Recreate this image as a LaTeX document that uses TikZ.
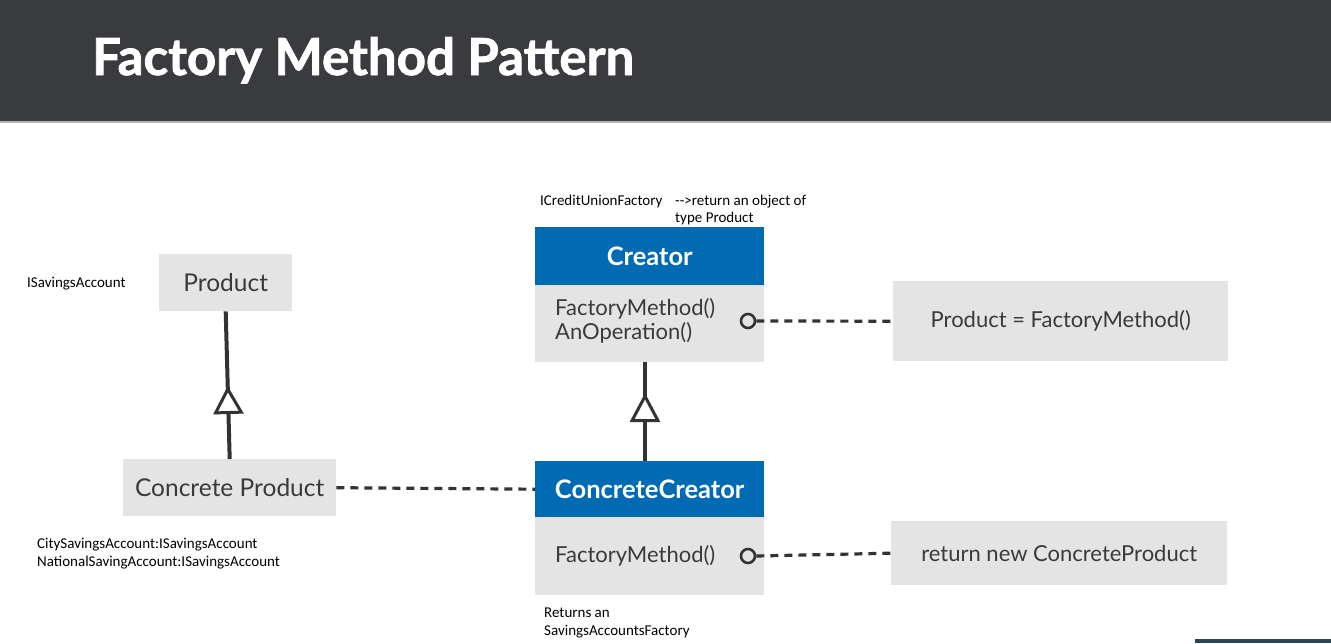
\documentclass[tikz,border=0pt]{standalone}
\usepackage{fontspec}
\setmainfont{Lato}
\newfontfamily\notefont{Carlito}
\newfontfamily\titlefont{Lato}[BoldFeatures={FakeBold=1.5}]
\usetikzlibrary{arrows.meta,decorations.markings}
\definecolor{barcol}{HTML}{3A3B3F}
\definecolor{boxgray}{HTML}{E4E4E4}
\definecolor{hdrblue}{HTML}{006BB3}
\definecolor{txtgray}{HTML}{3A3A3A}
\definecolor{linecol}{HTML}{333333}
\definecolor{slate}{HTML}{2B4552}
\tikzset{
  graybox/.style={fill=boxgray,draw=none,inner sep=0pt,text=txtgray,font=\fontsize{22}{24}\selectfont},
  biglabel/.style={font=\fontsize{24.5}{26}\selectfont},
  hdr/.style={fill=hdrblue,draw=none,inner sep=0pt,text=white,font=\bfseries\fontsize{25.5}{27}\selectfont},
  note/.style={inner sep=0pt,anchor=base west,font=\notefont\fontsize{15}{17}\selectfont,text=black},
  inherit/.style={draw=linecol,line width=4pt},
  depend/.style={draw=linecol,line width=3.2pt,dash pattern=on 8pt off 6pt},
  lolli/.style={circle,draw=linecol,line width=2.6pt,minimum size=14pt,inner sep=0pt}
}
\begin{document}
\begin{tikzpicture}[x=1pt,y=-1pt]
\useasboundingbox (0,0) rectangle (1331,643);
\fill[white] (0,0) rectangle (1331,643);
% title bar
\fill[barcol] (0,0) rectangle (1331,121);
\fill[gray!60] (0,121) rectangle (1331,123);
\node[anchor=base west,inner sep=0pt,text=white,font=\titlefont\bfseries\fontsize{51}{56}\selectfont] (title) at (92,75) {Factory Method Pattern};
\fill[slate] (1195,639) rectangle (1331,643);

% product side
\node[graybox,biglabel,minimum width=133pt,minimum height=57pt,anchor=north west] (prod) at (159,254) {Product};
\node[graybox,biglabel,minimum width=213pt,minimum height=57pt,anchor=north west] (cprod) at (123,459) {Concrete Product};

% creator
\node[hdr,minimum width=229pt,minimum height=58pt,anchor=north west] (creator) at (535,227) {Creator};
\node[graybox,minimum width=229pt,minimum height=77pt,anchor=north west] (cbody) at (535,285) {};
\node[anchor=west,inner sep=0pt,text=txtgray,font=\fontsize{22}{24}\selectfont,align=left] (cmeth) at (555,321) {FactoryMethod()\\AnOperation()};
\node[lolli] (c1) at (748,321) {};
\node[graybox,minimum width=335pt,minimum height=80pt,anchor=north west] (pfm) at (893,281) {Product = FactoryMethod()};

% concrete creator
\node[hdr,minimum width=229pt,minimum height=56pt,anchor=north west] (ccreator) at (535,461) {ConcreteCreator};
\node[graybox,minimum width=229pt,minimum height=78pt,anchor=north west] (ccbody) at (535,517) {};
\node[anchor=west,inner sep=0pt,text=txtgray,font=\fontsize{22}{24}\selectfont] (ccmeth) at (555,556) {FactoryMethod()};
\node[lolli] (c2) at (748,556) {};
\node[graybox,minimum width=336pt,minimum height=64pt,anchor=north west] (rnc) at (891,521) {return new ConcreteProduct};

% inheritance
\draw[inherit,postaction={decorate},decoration={markings,mark=at position 73pt with {\arrow[line width=3pt]{Triangle[length=28pt,width=30pt,fill=white]}}}] (cprod.north) -- (prod.south);
\draw[inherit,postaction={decorate},decoration={markings,mark=at position 68pt with {\arrow[line width=3pt]{Triangle[length=29pt,width=30pt,fill=white]}}}] (ccreator.north -| 645,0) -- (cbody.south -| 645,0);

% dependencies
\draw[depend] (cprod.east) -- (ccreator.west);
\draw[depend] (c1.east) -- (pfm.west);
\draw[depend] (c2.east) -- (rnc.west);

% notes
\node[note] (n1) at (27,287) {ISavingsAccount};
\node[note] (n2) at (540,205) {ICreditUnionFactory};
\node[note] (n3) at (675,205) {-->return an object of};
\node[note] (n4) at (675,222) {type Product};
\node[note] (n5) at (37,548) {CitySavingsAccount:ISavingsAccount};
\node[note] (n6) at (37,566) {NationalSavingAccount:ISavingsAccount};
\node[note] (n7) at (544,617) {Returns an};
\node[note] (n8) at (544,635) {SavingsAccountsFactory};
\end{tikzpicture}
\end{document}
